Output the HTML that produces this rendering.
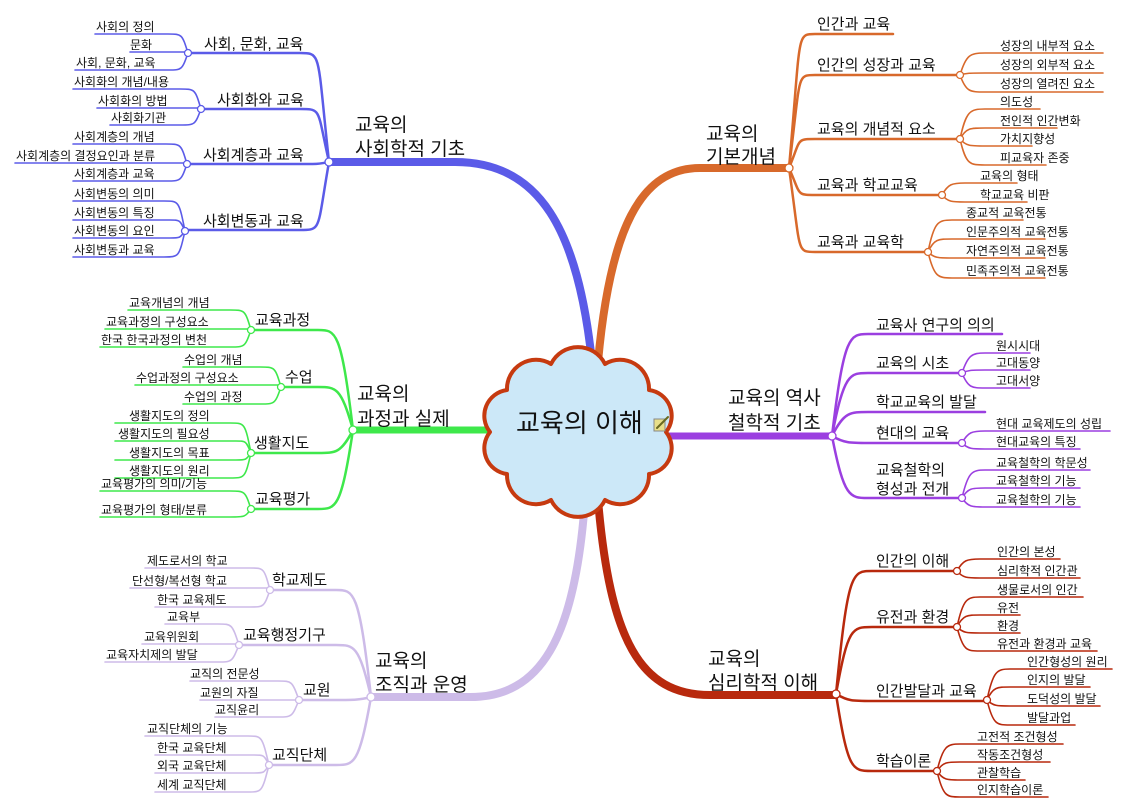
<!DOCTYPE html>
<html><head><meta charset="utf-8"><style>
html,body{margin:0;padding:0;background:#fff;}
svg{display:block;}
text{font-family:"Liberation Sans","Noto Sans CJK KR",sans-serif;fill:#111;}
.l{font-size:12px;} .s{font-size:15px;} .m{font-size:19px;}
path{fill:none;stroke-linecap:round;}
circle{fill:#fff;stroke-width:1.3;}
</style></head><body>
<svg width="1134" height="810" viewBox="0 0 1134 810" xmlns="http://www.w3.org/2000/svg">

<!-- ===== BLUE ===== -->
<g stroke="#5b5be8">
<path d="M329 162 H455 C540 162 578 230 592 362" stroke-width="8"/>
<path d="M329 162 C317 53 322 53 300 53 H188" stroke-width="2.5"/>
<path d="M329 162 C317 109 322 109 300 109 H201" stroke-width="2.5"/>
<path d="M329 162 C317 164 322 164 300 164 H187" stroke-width="2.5"/>
<path d="M329 162 C317 230 322 230 300 230 H186" stroke-width="2.5"/>
<path d="M95 34 H168 C182 34 182 34 188 53" stroke-width="1.6"/>
<path d="M130 52 H188" stroke-width="1.6"/>
<path d="M75 70 H168 C182 70 182 70 188 53" stroke-width="1.6"/>
<path d="M73 89 H180 C195 89 195 89 201 109" stroke-width="1.6"/>
<path d="M97 108 H201" stroke-width="1.6"/>
<path d="M110 125 H180 C195 125 195 125 201 109" stroke-width="1.6"/>
<path d="M73 144 H166 C181 144 181 144 187 164" stroke-width="1.6"/>
<path d="M15 163 H187" stroke-width="1.6"/>
<path d="M73 181 H166 C181 181 181 181 187 164" stroke-width="1.6"/>
<path d="M73 201 H164 C179 201 179 201 185 231" stroke-width="1.6"/>
<path d="M73 220 H170 C180 220 180 220 185 231" stroke-width="1.6"/>
<path d="M73 238 H170 C180 238 180 238 185 231" stroke-width="1.6"/>
<path d="M73 257 H164 C179 257 179 257 185 231" stroke-width="1.6"/>
<circle cx="329" cy="162" r="4"/><circle cx="188" cy="53" r="3.5"/><circle cx="201" cy="109" r="3.5"/><circle cx="187" cy="164" r="3.5"/><circle cx="185" cy="231" r="3.5"/>
</g>
<text class="m" x="355" y="131">교육의</text><text class="m" x="355" y="155">사회학적 기초</text>
<text class="s" x="204" y="49">사회, 문화, 교육</text>
<text class="s" x="217" y="105">사회화와 교육</text>
<text class="s" x="203" y="160">사회계층과 교육</text>
<text class="s" x="203" y="226">사회변동과 교육</text>
<text class="l" x="96" y="31">사회의 정의</text>
<text class="l" x="130" y="49">문화</text>
<text class="l" x="76" y="67">사회, 문화, 교육</text>
<text class="l" x="74" y="86">사회화의 개념/내용</text>
<text class="l" x="98" y="105">사회화의 방법</text>
<text class="l" x="111" y="122">사회화기관</text>
<text class="l" x="74" y="141">사회계층의 개념</text>
<text class="l" x="16" y="160">사회계층의 결정요인과 분류</text>
<text class="l" x="74" y="178">사회계층과 교육</text>
<text class="l" x="74" y="198">사회변동의 의미</text>
<text class="l" x="74" y="217">사회변동의 특징</text>
<text class="l" x="74" y="235">사회변동의 요인</text>
<text class="l" x="74" y="254">사회변동과 교육</text>

<!-- ===== ORANGE ===== -->
<g stroke="#d8692b">
<path d="M598 362 C610 230 640 168 700 168 H789" stroke-width="8"/>
<path d="M789 168 C801 34 796 34 815 34 H893" stroke-width="2.5"/>
<path d="M789 168 C801 75 796 75 815 75 H960" stroke-width="2.5"/>
<path d="M789 168 C801 139 796 139 815 139 H960" stroke-width="2.5"/>
<path d="M789 168 C801 195 796 195 815 195 H942" stroke-width="2.5"/>
<path d="M789 168 C801 252 796 252 815 252 H928" stroke-width="2.5"/>
<path d="M960 75 C966 55 970 53 985 53 H1103" stroke-width="1.6"/>
<path d="M960 75 C966 73 970 73 985 73 H1103" stroke-width="1.6"/>
<path d="M960 75 C966 92 970 92 985 92 H1103" stroke-width="1.6"/>
<path d="M960 139 C966 111 970 109 985 109 H1040" stroke-width="1.6"/>
<path d="M960 139 C966 128 970 128 985 128 H1057" stroke-width="1.6"/>
<path d="M960 139 C966 146 970 146 985 146 H1032" stroke-width="1.6"/>
<path d="M960 139 C966 165 970 165 985 165 H1046" stroke-width="1.6"/>
<path d="M942 195 C948 184 952 183 965 183 H1017" stroke-width="1.6"/>
<path d="M942 195 C948 202 952 202 965 202 H1027" stroke-width="1.6"/>
<path d="M928 252 C934 222 938 220 952 220 H1023" stroke-width="1.6"/>
<path d="M928 252 C934 239 938 239 952 239 H1045" stroke-width="1.6"/>
<path d="M928 252 C934 258 938 258 952 258 H1045" stroke-width="1.6"/>
<path d="M928 252 C934 277 938 278 952 278 H1045" stroke-width="1.6"/>
<circle cx="789" cy="168" r="4"/><circle cx="960" cy="75" r="3.5"/><circle cx="960" cy="139" r="3.5"/><circle cx="942" cy="195" r="3.5"/><circle cx="928" cy="252" r="3.5"/>
</g>
<text class="m" x="706" y="140">교육의</text><text class="m" x="706" y="163">기본개념</text>
<text class="s" x="817" y="29">인간과 교육</text>
<text class="s" x="817" y="70">인간의 성장과 교육</text>
<text class="s" x="817" y="134">교육의 개념적 요소</text>
<text class="s" x="817" y="190">교육과 학교교육</text>
<text class="s" x="817" y="247">교육과 교육학</text>
<text class="l" x="1000" y="50">성장의 내부적 요소</text>
<text class="l" x="1000" y="69">성장의 외부적 요소</text>
<text class="l" x="1000" y="88">성장의 열려진 요소</text>
<text class="l" x="1000" y="106">의도성</text>
<text class="l" x="1000" y="125">전인적 인간변화</text>
<text class="l" x="1000" y="143">가치지향성</text>
<text class="l" x="1000" y="162">피교육자 존중</text>
<text class="l" x="980" y="180">교육의 형태</text>
<text class="l" x="980" y="199">학교교육 비판</text>
<text class="l" x="966" y="217">종교적 교육전통</text>
<text class="l" x="966" y="236">인문주의적 교육전통</text>
<text class="l" x="966" y="255">자연주의적 교육전통</text>
<text class="l" x="966" y="275">민족주의적 교육전통</text>

<!-- ===== PURPLE ===== -->
<g stroke="#9b3fe0">
<path d="M655 436 H832" stroke-width="7"/>
<path d="M832 436 C844 334 850 334 868 334 H1002" stroke-width="2.5"/>
<path d="M832 436 C844 373 850 373 868 373 H962" stroke-width="2.5"/>
<path d="M832 436 C844 412 850 412 868 412 H985" stroke-width="2.5"/>
<path d="M832 436 C844 443 850 443 868 443 H962" stroke-width="2.5"/>
<path d="M832 436 C844 498 850 498 868 498 H962" stroke-width="2.5"/>
<path d="M962 373 C968 355 972 353 985 353 H1030" stroke-width="1.6"/>
<path d="M962 373 C968 370 972 370 985 370 H1030" stroke-width="1.6"/>
<path d="M962 373 C968 388 972 388 985 388 H1030" stroke-width="1.6"/>
<path d="M962 443 C968 432 972 431 985 431 H1110" stroke-width="1.6"/>
<path d="M962 443 C968 449 972 449 985 449 H1080" stroke-width="1.6"/>
<path d="M962 498 C968 472 972 470 985 470 H1090" stroke-width="1.6"/>
<path d="M962 498 C968 488 972 488 985 488 H1080" stroke-width="1.6"/>
<path d="M962 498 C968 507 972 507 985 507 H1080" stroke-width="1.6"/>
<circle cx="832" cy="436" r="4"/><circle cx="962" cy="373" r="3.5"/><circle cx="962" cy="443" r="3.5"/><circle cx="962" cy="498" r="3.5"/>
</g>
<text class="m" x="728" y="404">교육의 역사</text><text class="m" x="728" y="429">철학적 기초</text>
<text class="s" x="876" y="330">교육사 연구의 의의</text>
<text class="s" x="876" y="368">교육의 시초</text>
<text class="s" x="876" y="407">학교교육의 발달</text>
<text class="s" x="876" y="438">현대의 교육</text>
<text class="s" x="876" y="475">교육철학의</text><text class="s" x="876" y="494">형성과 전개</text>
<text class="l" x="996" y="350">원시시대</text>
<text class="l" x="996" y="367">고대동양</text>
<text class="l" x="996" y="385">고대서양</text>
<text class="l" x="996" y="428">현대 교육제도의 성립</text>
<text class="l" x="996" y="446">현대교육의 특징</text>
<text class="l" x="996" y="467">교육철학의 학문성</text>
<text class="l" x="996" y="485">교육철학의 기능</text>
<text class="l" x="996" y="504">교육철학의 기능</text>

<!-- ===== RED ===== -->
<g stroke="#b8290d">
<path d="M598 500 C610 640 640 695 710 695 H836" stroke-width="8"/>
<path d="M836 694 C848 571 852 571 872 571 H957" stroke-width="2.5"/>
<path d="M836 694 C848 627 852 627 872 627 H957" stroke-width="2.5"/>
<path d="M836 694 C848 701 852 701 872 701 H987" stroke-width="2.5"/>
<path d="M836 694 C848 771 852 771 872 771 H937" stroke-width="2.5"/>
<path d="M957 571 C963 560 967 559 980 559 H1060" stroke-width="1.6"/>
<path d="M957 571 C963 578 967 578 980 578 H1080" stroke-width="1.6"/>
<path d="M957 627 C963 599 967 597 980 597 H1083" stroke-width="1.6"/>
<path d="M957 627 C963 615 967 615 980 615 H1020" stroke-width="1.6"/>
<path d="M957 627 C963 633 967 633 980 633 H1020" stroke-width="1.6"/>
<path d="M957 627 C963 651 967 651 980 651 H1097" stroke-width="1.6"/>
<path d="M987 700 C993 671 997 669 1010 669 H1112" stroke-width="1.6"/>
<path d="M987 700 C993 687 997 687 1010 687 H1090" stroke-width="1.6"/>
<path d="M987 700 C993 706 997 706 1010 706 H1100" stroke-width="1.6"/>
<path d="M987 700 C993 725 997 725 1010 725 H1075" stroke-width="1.6"/>
<path d="M937 771 C943 746 947 744 960 744 H1063" stroke-width="1.6"/>
<path d="M937 771 C943 762 947 762 960 762 H1050" stroke-width="1.6"/>
<path d="M937 771 C943 780 947 780 960 780 H1025" stroke-width="1.6"/>
<path d="M937 771 C943 797 947 797 960 797 H1048" stroke-width="1.6"/>
<circle cx="836" cy="694" r="4"/><circle cx="957" cy="571" r="3.5"/><circle cx="957" cy="627" r="3.5"/><circle cx="987" cy="700" r="3.5"/><circle cx="937" cy="771" r="3.5"/>
</g>
<text class="m" x="708" y="665">교육의</text><text class="m" x="708" y="689">심리학적 이해</text>
<text class="s" x="876" y="566">인간의 이해</text>
<text class="s" x="876" y="622">유전과 환경</text>
<text class="s" x="876" y="696">인간발달과 교육</text>
<text class="s" x="876" y="766">학습이론</text>
<text class="l" x="997" y="556">인간의 본성</text>
<text class="l" x="997" y="575">심리학적 인간관</text>
<text class="l" x="997" y="594">생물로서의 인간</text>
<text class="l" x="997" y="612">유전</text>
<text class="l" x="997" y="630">환경</text>
<text class="l" x="997" y="648">유전과 환경과 교육</text>
<text class="l" x="1027" y="666">인간형성의 원리</text>
<text class="l" x="1027" y="684">인지의 발달</text>
<text class="l" x="1027" y="703">도덕성의 발달</text>
<text class="l" x="1027" y="722">발달과업</text>
<text class="l" x="977" y="741">고전적 조건형성</text>
<text class="l" x="977" y="759">작동조건형성</text>
<text class="l" x="977" y="777">관찰학습</text>
<text class="l" x="977" y="794">인지학습이론</text>

<!-- ===== GREEN ===== -->
<g stroke="#3ee84b">
<path d="M492 430 H353" stroke-width="7"/>
<path d="M353 430 C341 330 336 330 318 330 H251" stroke-width="2.5"/>
<path d="M353 430 C341 387 336 387 318 387 H281" stroke-width="2.5"/>
<path d="M353 430 C341 453 336 453 318 453 H251" stroke-width="2.5"/>
<path d="M353 430 C341 509 336 509 318 509 H251" stroke-width="2.5"/>
<path d="M128 310 H230 C245 310 245 310 251 330" stroke-width="1.6"/>
<path d="M105 329 H251" stroke-width="1.6"/>
<path d="M100 347 H230 C245 347 245 347 251 330" stroke-width="1.6"/>
<path d="M183 367 H260 C275 367 275 367 281 387" stroke-width="1.6"/>
<path d="M135 385 H281" stroke-width="1.6"/>
<path d="M183 404 H260 C275 404 275 404 281 387" stroke-width="1.6"/>
<path d="M115 423 H230 C245 423 245 423 251 453" stroke-width="1.6"/>
<path d="M115 441 H236 C246 441 246 441 251 453" stroke-width="1.6"/>
<path d="M115 460 H236 C246 460 246 460 251 453" stroke-width="1.6"/>
<path d="M115 478 H230 C245 478 245 478 251 453" stroke-width="1.6"/>
<path d="M100 491 H230 C245 491 245 491 251 509" stroke-width="1.6"/>
<path d="M100 517 H230 C245 517 245 517 251 509" stroke-width="1.6"/>
<circle cx="353" cy="430" r="4"/><circle cx="251" cy="330" r="3.5"/><circle cx="281" cy="387" r="3.5"/><circle cx="251" cy="453" r="3.5"/><circle cx="251" cy="509" r="3.5"/>
</g>
<text class="m" x="357" y="400">교육의</text><text class="m" x="357" y="425">과정과 실제</text>
<text class="s" x="255" y="325">교육과정</text>
<text class="s" x="285" y="382">수업</text>
<text class="s" x="254" y="448">생활지도</text>
<text class="s" x="255" y="504">교육평가</text>
<text class="l" x="129" y="307">교육개념의 개념</text>
<text class="l" x="106" y="326">교육과정의 구성요소</text>
<text class="l" x="101" y="344">한국 한국과정의 변천</text>
<text class="l" x="184" y="364">수업의 개념</text>
<text class="l" x="136" y="382">수업과정의 구성요소</text>
<text class="l" x="184" y="401">수업의 과정</text>
<text class="l" x="129" y="420">생활지도의 정의</text>
<text class="l" x="118" y="438">생활지도의 필요성</text>
<text class="l" x="129" y="457">생활지도의 목표</text>
<text class="l" x="129" y="475">생활지도의 원리</text>
<text class="l" x="101" y="488">교육평가의 의미/기능</text>
<text class="l" x="101" y="514">교육평가의 형태/분류</text>

<!-- ===== LAVENDER ===== -->
<g stroke="#cdbbe8">
<path d="M585 500 C575 640 540 697 470 697 H371" stroke-width="8"/>
<path d="M371 697 C359 590 354 590 336 590 H270" stroke-width="2.5"/>
<path d="M371 697 C359 645 354 645 336 645 H239" stroke-width="2.5"/>
<path d="M371 697 C359 700 354 700 336 700 H299" stroke-width="2.5"/>
<path d="M371 697 C359 765 354 765 336 765 H269" stroke-width="2.5"/>
<path d="M145 568 H250 C264 568 264 568 270 590" stroke-width="1.6"/>
<path d="M130 588 H270" stroke-width="1.6"/>
<path d="M155 607 H250 C264 607 264 607 270 590" stroke-width="1.6"/>
<path d="M165 624 H218 C232 624 232 624 239 645" stroke-width="1.6"/>
<path d="M142 644 H239" stroke-width="1.6"/>
<path d="M105 662 H218 C232 662 232 662 239 645" stroke-width="1.6"/>
<path d="M190 681 H278 C292 681 292 681 299 700" stroke-width="1.6"/>
<path d="M200 700 H299" stroke-width="1.6"/>
<path d="M215 717 H278 C292 717 292 717 299 700" stroke-width="1.6"/>
<path d="M145 736 H248 C262 736 262 736 269 765" stroke-width="1.6"/>
<path d="M155 755 H254 C264 755 264 755 269 765" stroke-width="1.6"/>
<path d="M155 773 H254 C264 773 264 773 269 765" stroke-width="1.6"/>
<path d="M155 792 H248 C262 792 262 792 269 765" stroke-width="1.6"/>
<circle cx="371" cy="697" r="4"/><circle cx="270" cy="590" r="3.5"/><circle cx="239" cy="645" r="3.5"/><circle cx="299" cy="700" r="3.5"/><circle cx="269" cy="765" r="3.5"/>
</g>
<text class="m" x="375" y="667">교육의</text><text class="m" x="375" y="691">조직과 운영</text>
<text class="s" x="272" y="585">학교제도</text>
<text class="s" x="243" y="640">교육행정기구</text>
<text class="s" x="303" y="695">교원</text>
<text class="s" x="272" y="760">교직단체</text>
<text class="l" x="147" y="565">제도로서의 학교</text>
<text class="l" x="132" y="585">단선형/복선형 학교</text>
<text class="l" x="157" y="604">한국 교육제도</text>
<text class="l" x="167" y="621">교육부</text>
<text class="l" x="144" y="641">교육위원회</text>
<text class="l" x="106" y="659">교육자치제의 발달</text>
<text class="l" x="190" y="678">교직의 전문성</text>
<text class="l" x="200" y="697">교원의 자질</text>
<text class="l" x="215" y="714">교직윤리</text>
<text class="l" x="147" y="733">교직단체의 기능</text>
<text class="l" x="157" y="752">한국 교육단체</text>
<text class="l" x="157" y="770">외국 교육단체</text>
<text class="l" x="157" y="789">세계 교직단체</text>

<!-- ===== CLOUD ===== -->
<path d="M666 432 A26 26 0 0 1 649 474 A29 29 0 0 1 605 500 A30 30 0 0 1 551 500 A29 29 0 0 1 507 474 A26 26 0 0 1 490 432 A26 26 0 0 1 507 390 A29 29 0 0 1 551 364 A30 30 0 0 1 605 364 A29 29 0 0 1 649 390 A26 26 0 0 1 666 432 Z" style="fill:#cce8f8;stroke:#c63a10;stroke-width:4;stroke-linejoin:round"/>
<text x="516" y="432" style="font-size:26px">교육의 이해</text>
<rect x="654" y="419" width="11" height="12" fill="#e8e08a" stroke="#888" stroke-width="1"/>
<path d="M657 428 L668 417" stroke="#6a6a20" stroke-width="2"/>
</svg>
</body></html>
